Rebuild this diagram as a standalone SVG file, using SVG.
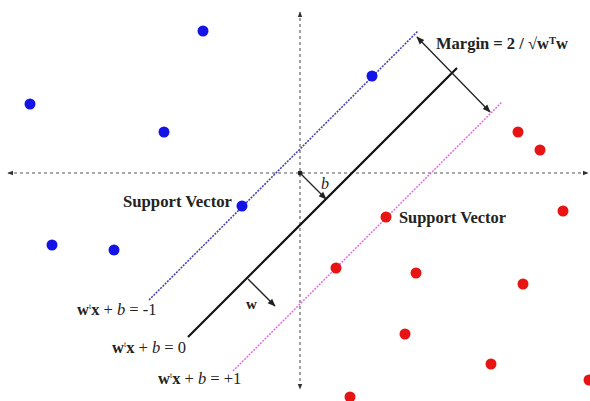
<svg xmlns="http://www.w3.org/2000/svg" width="590" height="401" viewBox="0 0 590 401">
<style>
.blue{fill:#1414e6}
.red{fill:#e81414}
.axis{stroke:#555;stroke-width:1.1;stroke-dasharray:3,3;fill:none}
.arr{stroke:#222;stroke-width:1.3;fill:none}
.lbl{font-family:"Liberation Serif","Times New Roman",serif;fill:#222}
.b{font-weight:bold}
.i{font-style:italic}
</style>
<defs>
<marker id="ah" viewBox="0 0 10 10" refX="9" refY="5" markerWidth="8" markerHeight="8" markerUnits="userSpaceOnUse" orient="auto-start-reverse">
<path d="M0,1 L10,5 L0,9 z" fill="#222"/>
</marker>
<marker id="axh" viewBox="0 0 10 10" refX="9" refY="5" markerWidth="6" markerHeight="6" markerUnits="userSpaceOnUse" orient="auto-start-reverse">
<path d="M0,1 L10,5 L0,9 z" fill="#333"/>
</marker>
<marker id="dot" viewBox="0 0 10 10" refX="5" refY="5" markerWidth="5" markerHeight="5" markerUnits="userSpaceOnUse">
<circle cx="5" cy="5" r="5" fill="#222"/>
</marker>
</defs>
<rect width="590" height="401" fill="#fff"/>
<g id="connectors">
<line class="axis" x1="8" y1="173" x2="588" y2="173" marker-start="url(#axh)" marker-end="url(#axh)"/>
<line class="axis" x1="300" y1="12" x2="300" y2="389" marker-start="url(#axh)" marker-end="url(#axh)"/>
<line x1="149" y1="300" x2="418" y2="31" stroke="#3c3cb4" stroke-width="1.5" stroke-dasharray="2,1.2"/>
<line x1="233" y1="371" x2="502" y2="102" stroke="#e070e0" stroke-width="1.5" stroke-dasharray="2,1.2"/>
<line x1="188" y1="337" x2="457" y2="68" stroke="#111" stroke-width="2.2"/>
<line class="arr" x1="417" y1="37" x2="490" y2="112" marker-start="url(#ah)" marker-end="url(#ah)"/>
<line class="arr" x1="300" y1="173" x2="326" y2="199" marker-start="url(#dot)" marker-end="url(#ah)"/>
<line class="arr" x1="248" y1="279" x2="275" y2="306" marker-end="url(#ah)"/>
</g>
<g id="blue-points">
<g id="b1"><circle class="blue" cx="203" cy="31" r="5.5"/></g>
<g id="b2"><circle class="blue" cx="30" cy="104" r="5.5"/></g>
<g id="b3"><circle class="blue" cx="164" cy="132" r="5.5"/></g>
<g id="b4"><circle class="blue" cx="242" cy="206" r="5.5"/></g>
<g id="b5"><circle class="blue" cx="52" cy="245" r="5.5"/></g>
<g id="b6"><circle class="blue" cx="114" cy="250" r="5.5"/></g>
<g id="b7"><circle class="blue" cx="372" cy="76" r="5.5"/></g>
</g>
<g id="red-points">
<g id="r1"><circle class="red" cx="518" cy="132" r="5.5"/></g>
<g id="r2"><circle class="red" cx="540" cy="150" r="5.5"/></g>
<g id="r3"><circle class="red" cx="563" cy="211" r="5.5"/></g>
<g id="r4"><circle class="red" cx="386" cy="217" r="5.5"/></g>
<g id="r5"><circle class="red" cx="336" cy="268" r="5.5"/></g>
<g id="r6"><circle class="red" cx="416" cy="273" r="5.5"/></g>
<g id="r7"><circle class="red" cx="523" cy="284" r="5.5"/></g>
<g id="r8"><circle class="red" cx="405" cy="334" r="5.5"/></g>
<g id="r9"><circle class="red" cx="491" cy="364" r="5.5"/></g>
<g id="r10"><circle class="red" cx="350" cy="397" r="5.5"/></g>
<g id="r11"><circle class="red" cx="589" cy="380" r="5.5"/></g>
</g>
<g id="label-margin"><text class="lbl b" x="436" y="49" font-size="16.5"><tspan>Margin</tspan> = 2 / √w<tspan font-size="10.5" dy="-5">T</tspan><tspan dy="5">w</tspan></text></g>
<g id="label-sv-left"><text class="lbl b" x="123" y="207" font-size="16" textLength="109" lengthAdjust="spacingAndGlyphs">Support Vector</text></g>
<g id="label-sv-right"><text class="lbl b" x="399" y="223" font-size="16" textLength="107" lengthAdjust="spacingAndGlyphs">Support Vector</text></g>
<g id="label-b"><text class="lbl i" x="321" y="189" font-size="16">b</text></g>
<g id="label-w"><text class="lbl b" x="246" y="309" font-size="15">w</text></g>
<g id="label-minus1"><text class="lbl" x="77" y="315" font-size="16.5"><tspan class="b">w</tspan><tspan font-size="8" dy="-6">t</tspan><tspan class="b" dy="6">x</tspan> + <tspan class="i">b</tspan> = -1</text></g>
<g id="label-zero"><text class="lbl" x="112" y="353" font-size="16.5"><tspan class="b">w</tspan><tspan font-size="8" dy="-6">t</tspan><tspan class="b" dy="6">x</tspan> + <tspan class="i">b</tspan> = 0</text></g>
<g id="label-plus1"><text class="lbl" x="158" y="384" font-size="16.5"><tspan class="b">w</tspan><tspan font-size="8" dy="-6">t</tspan><tspan class="b" dy="6">x</tspan> + <tspan class="i">b</tspan> = +1</text></g>
</svg>
